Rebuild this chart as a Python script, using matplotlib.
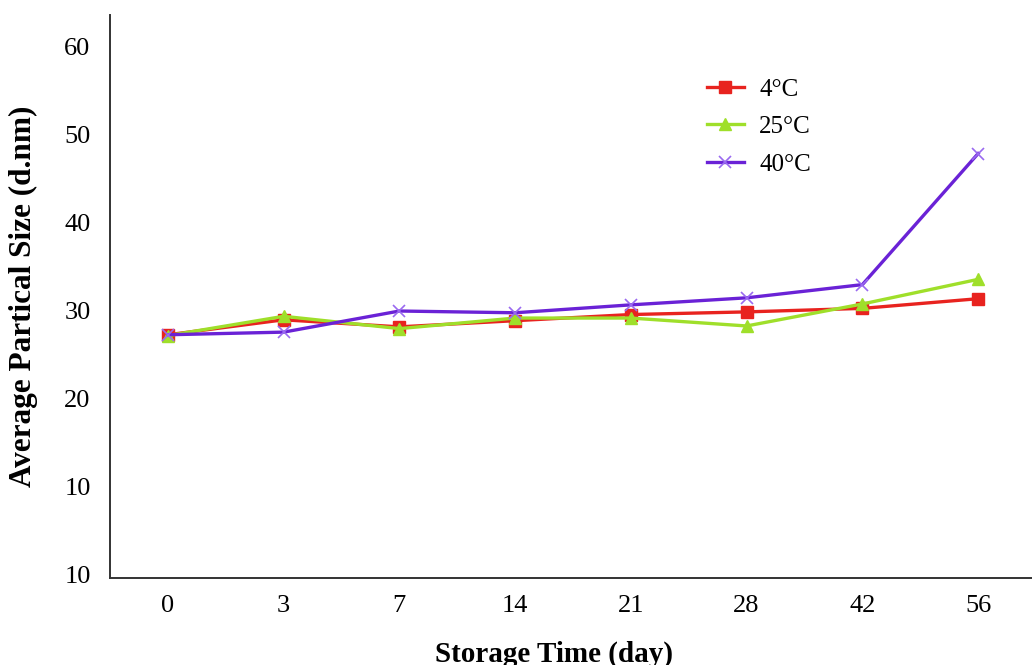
import matplotlib.pyplot as plt

days = ["0", "3", "7", "14", "21", "28", "42", "56"]
temp_4 = [27.2, 28.9, 28.1, 28.8, 29.5, 29.8, 30.2, 31.3]
temp_25 = [27.1, 29.3, 27.9, 29.1, 29.1, 28.2, 30.7, 33.5]
temp_40 = [27.2, 27.5, 29.9, 29.7, 30.6, 31.4, 32.9, 47.8]
y_ticks = [0, 10, 20, 30, 40, 50, 60]
y_tick_labels = ["10", "10", "20", "30", "40", "50", "60"]

plt.rcParams["font.family"] = ["Liberation Serif", "DejaVu Serif"]

fig = plt.figure(figsize=(10.32, 6.65), dpi=100)
ax = fig.add_axes([110 / 1032, 87 / 665, 926 / 1032, 563 / 665])

x = list(range(len(days)))
ax.plot(x, temp_4, color="#E8231F", lw=2.4, marker="s", ms=8, label="4°C")
ax.plot(x, temp_25, color="#9FDF2A", lw=2.4, marker="^", ms=8, label="25°C")
ax.plot(x, temp_40, color="#6A22D6", lw=2.4, marker="x", ms=9, mew=1.2,
        mec="#9A6AF0", label="40°C")

ax.set_xlim(-0.5, 7.5)
ax.set_ylim(-0.45, 63.55)
ax.set_xticks(x)
ax.set_xticklabels(days)
ax.set_yticks(y_ticks)
ax.set_yticklabels(y_tick_labels)
ax.tick_params(length=0, labelsize=19, pad=12)
ax.tick_params(axis="y", pad=14)

for side in ["top", "right"]:
    ax.spines[side].set_visible(False)
for side in ["left", "bottom"]:
    ax.spines[side].set_color("#333333")
    ax.spines[side].set_linewidth(1.4)

ax.set_xlabel("Storage Time (day)", fontsize=21, fontweight="bold")
ax.xaxis.set_label_coords(0.479, -0.112)
ax.set_ylabel("Average Partical Size (d.nm)", fontsize=22.5, fontweight="bold")
ax.yaxis.set_label_coords(-0.078, 0.5)

ax.legend(loc="upper left", bbox_to_anchor=(0.62, 0.928), frameon=False,
          fontsize=18, handlelength=1.5, labelspacing=0.6, handletextpad=0.6)

fig.savefig("out.png", dpi=100)
